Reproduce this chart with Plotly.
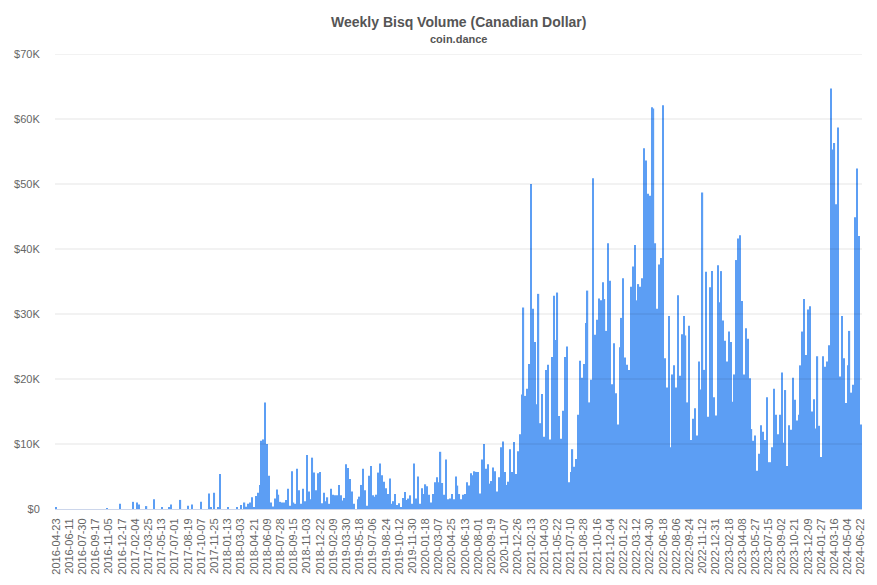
import plotly.graph_objects as go

# weekly volume, thousands of CAD; one row per 7-week tick interval
vol_2016_2017 = [
    0.3, 0, 0, 0, 0, 0, 0,
    0, 0, 0, 0, 0, 0, 0,
    0, 0, 0, 0, 0, 0, 0,
    0, 0, 0, 0, 0, 0, 0.15,
    0, 0, 0, 0, 0, 0, 0.8,
    0, 0, 0, 0, 0, 0, 1.1,
    0, 1.0, 0.7, 0, 0, 0, 0.45,
    0, 0, 0, 1.5, 0, 0, 0,
    0.3, 0, 0, 0, 0.25, 0.7, 0,
    0, 0, 0, 1.4, 0, 0, 0,
    0.5, 0, 0.7, 0, 0, 0, 0,
    1.1, 0, 0, 0, 2.4, 0.2, 0,
    2.5, 0, 0.2, 5.4, 0, 0, 0,
]
vol_2018_2019 = [
    0.2, 0, 0, 0, 0, 0.3, 0,
    0.6, 0, 1.0, 0.35, 0.8, 1.0, 1.8,
    0.3, 2.0, 2.5, 3.7, 10.5, 10.7, 16.4,
    10.0, 5.1, 1.0, 0.4, 1.6, 3.0, 2.2,
    1.1, 1.0, 1.0, 1.4, 3.1, 0.5, 5.8,
    1.0, 0.8, 6.2, 2.9, 0.8, 3.1, 1.2,
    8.3, 2.7, 1.5, 7.9, 5.6, 2.9, 5.5,
    5.7, 0.9, 2.5, 1.2, 1.8, 0.8, 3.1,
    2.2, 2.1, 2.1, 3.7, 2.1, 1.3, 1.7,
    6.9, 6.3, 4.6, 2.7, 0.8, 0, 1.5,
    1.9, 3.7, 6.2, 2.9, 0.5, 5.1, 6.6,
    2.1, 1.9, 2.2, 5.6, 7.0, 5.2, 4.2,
    3.2, 2.3, 4.7, 0.8, 1.2, 2.3, 0.6,
    0.9, 0.3, 1.7, 2.6, 1.4, 1.6, 2.1,
    0.8, 7.0, 1.6, 5.0, 0.8, 3.2, 2.3,
]
vol_2020_2021 = [
    3.8, 3.5, 2.2, 1.0, 2.3, 4.1, 4.9,
    4.1, 8.8, 4.0, 2.2, 7.6, 1.5, 1.6,
    2.3, 1.5, 5.0, 3.6, 2.3, 1.5, 2.2,
    2.3, 4.1, 3.6, 5.5, 5.2, 5.8, 5.7,
    5.7, 2.4, 7.6, 10.0, 6.2, 6.9, 3.9,
    4.3, 6.4, 5.8, 2.7, 4.9, 9.5, 10.4,
    5.7, 3.7, 4.2, 9.2, 5.7, 10.3, 5.4,
    8.9, 11.5, 17.6, 31.0, 17.4, 18.5, 22.3,
    50.0, 30.8, 25.7, 16.1, 33.1, 13.2, 17.7,
    11.1, 21.4, 22.2, 10.7, 23.4, 32.8, 26.0,
    33.3, 14.3, 10.8, 15.1, 23.4, 25.0, 4.1,
    5.7, 9.2, 6.5, 7.7, 14.5, 22.8, 20.2,
    22.3, 28.6, 33.6, 16.4, 19.9, 50.9, 26.8,
    29.1, 32.4, 32.1, 34.9, 32.3, 27.4, 40.9,
    35.1, 19.2, 25.5, 17.8, 13.0, 24.9, 29.4,
]
vol_2022_2024 = [
    35.5, 23.3, 22.2, 21.4, 34.2, 37.3, 40.6,
    32.1, 34.6, 34.2, 35.5, 55.5, 53.6, 48.5,
    48.2, 61.8, 61.6, 40.9, 30.8, 37.6, 38.6,
    62.1, 23.2, 18.7, 29.7, 9.5, 20.7, 22.1,
    18.7, 32.9, 20.5, 26.9, 29.7, 26.7, 16.4,
    28.2, 10.6, 13.9, 15.5, 11.3, 22.7, 18.4,
    48.7, 21.4, 36.5, 14.2, 34.1, 36.6, 17.2,
    14.4, 37.5, 31.8, 36.6, 29.0, 25.9, 22.7,
    27.3, 25.7, 16.5, 20.7, 38.3, 41.6, 42.1,
    32.0, 20.7, 27.8, 26.2, 20.1, 12.3, 10.5,
    11.3, 5.9, 8.5, 12.9, 11.9, 10.6, 17.2,
    7.2, 7.2, 9.5, 18.5, 14.5, 11.5, 14.5,
    21.0, 10.2, 18.3, 6.6, 12.9, 12.2, 20.2,
    16.8, 13.6, 14.5, 22.1, 27.3, 32.3, 23.7,
    30.7, 31.2, 15.0, 16.9, 12.4, 23.5, 12.8,
    8.0, 23.5, 21.9, 22.7, 25.2, 64.7, 55.3,
    56.3, 46.9, 58.7, 20.4, 29.7, 23.2, 16.3,
    22.1, 27.4, 17.9, 19.1, 44.9, 52.4, 42.0,
    13.0,
]
volume = vol_2016_2017 + vol_2018_2019 + vol_2020_2021 + vol_2022_2024

tick_labels = [
    '2016-04-23', '2016-06-11', '2016-07-30', '2016-09-17', '2016-11-05', '2016-12-17',
    '2017-02-04', '2017-03-25', '2017-05-13', '2017-07-01', '2017-08-19', '2017-10-07',
    '2017-11-25', '2018-01-13', '2018-03-03', '2018-04-21', '2018-06-09', '2018-07-28',
    '2018-09-15', '2018-11-03', '2018-12-22', '2019-02-09', '2019-03-30', '2019-05-18',
    '2019-07-06', '2019-08-24', '2019-10-12', '2019-11-30', '2020-01-18', '2020-03-07',
    '2020-04-25', '2020-06-13', '2020-08-01', '2020-09-19', '2020-11-07', '2020-12-26',
    '2021-02-13', '2021-04-03', '2021-05-22', '2021-07-10', '2021-08-28', '2021-10-16',
    '2021-12-04', '2022-01-22', '2022-03-12', '2022-04-30', '2022-06-18', '2022-08-06',
    '2022-09-24', '2022-11-12', '2022-12-31', '2023-02-18', '2023-04-08', '2023-05-27',
    '2023-07-15', '2023-09-02', '2023-10-21', '2023-12-09', '2024-01-27', '2024-03-16',
    '2024-05-04', '2024-06-22',
]
y_ticks = [0, 10, 20, 30, 40, 50, 60, 70]
y_tick_labels = ['$0', '$10K', '$20K', '$30K', '$40K', '$50K', '$60K', '$70K']

weeks = list(range(len(volume)))
tick_step = 7

fig = go.Figure(go.Bar(
    x=weeks,
    y=volume,
    marker={'color': '#5c9ef4', 'line': {'width': 0}},
))

# gridlines sit over the columns in the original
for v in y_ticks[1:]:
    fig.add_hline(y=v, line_color='rgba(0,0,0,0.1)', line_width=1, layer='above')

font = 'Liberation Sans, Arial, sans-serif'
fig.update_layout(
    width=877,
    height=585,
    margin={'l': 55, 'r': 15, 't': 54, 'b': 76, 'autoexpand': False},
    plot_bgcolor='white',
    paper_bgcolor='white',
    bargap=0.35,
    showlegend=False,
    font={'family': font, 'size': 11, 'color': '#666666'},
    xaxis={
        'tickvals': weeks[::tick_step],
        'ticktext': tick_labels,
        'tickangle': -90,
        'range': [-0.6, len(volume) - 0.4],
        'showgrid': False,
        'showline': True,
        'linecolor': '#ccd6eb',
        'ticks': 'outside',
        'ticklen': 4,
        'tickcolor': 'rgba(0,0,0,0)',
        'tickfont': {'size': 11, 'color': '#666666'},
    },
    yaxis={
        'range': [0, 70],
        'tickvals': y_ticks,
        'ticktext': y_tick_labels,
        'showgrid': False,
        'zeroline': False,
        'ticks': 'outside',
        'ticklen': 12,
        'tickcolor': 'rgba(0,0,0,0)',
        'tickfont': {'size': 11, 'color': '#666666'},
    },
    annotations=[
        {'text': '<b>Weekly Bisq Volume (Canadian Dollar)</b>', 'xref': 'paper', 'yref': 'paper',
         'x': 0.5, 'y': 1.0703, 'yanchor': 'middle', 'showarrow': False,
         'font': {'size': 14, 'color': '#555555', 'family': font}},
        {'text': '<b>coin.dance</b>', 'xref': 'paper', 'yref': 'paper',
         'x': 0.5, 'y': 1.033, 'yanchor': 'middle', 'showarrow': False,
         'font': {'size': 11, 'color': '#555555', 'family': font}},
    ],
)

# the page's default body margin shifts the figure; remove it
fig.write_html(
    'out.html',
    config={'displayModeBar': False},
    post_script="document.body.style.margin='0';",
)
